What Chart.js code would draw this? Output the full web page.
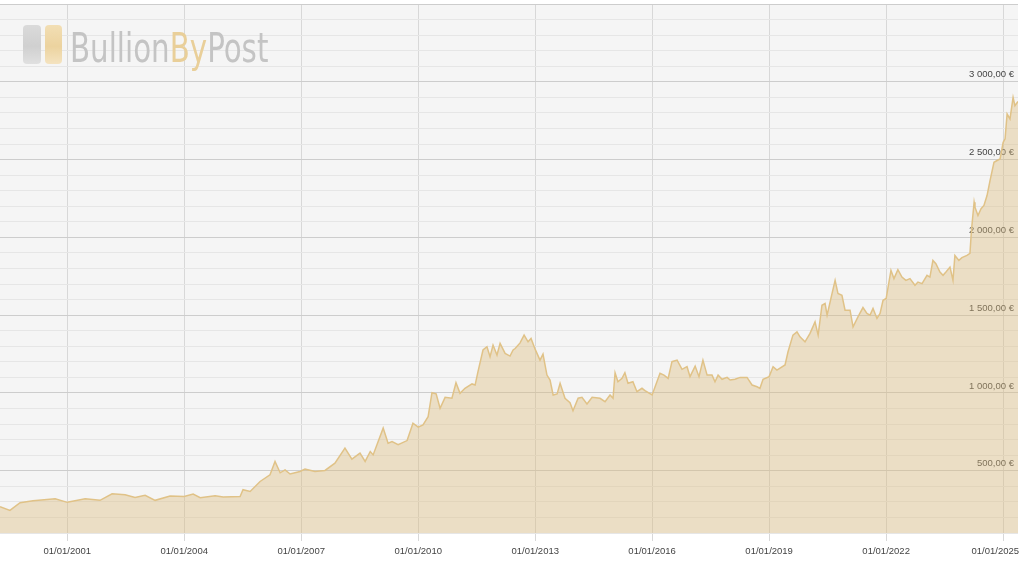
<!DOCTYPE html>
<html>
<head>
<meta charset="utf-8">
<script src="https://cdn.jsdelivr.net/npm/chart.js@4"></script>
<style>
  html, body { margin: 0; padding: 0; background: #fff; }
  #wrap { position: relative; width: 1024px; height: 561px; }
  #logo { position: absolute; left: 23px; top: 25px; height: 40px; pointer-events: none; }
  .bar { position: absolute; top: 0; width: 18px; height: 39px; border-radius: 4px; }
  .bar.grey { left: 0; background: linear-gradient(#dadada, #d0d0d0 55%, #e0e0e0); }
  .bar.gold { left: 22px; width: 17px; background: linear-gradient(#f2deb4, #ecd39f 55%, #f4e3c0); }
  #logoText { position: absolute; left: 47px; top: -1px; font-family: "DejaVu Sans Condensed", "Liberation Sans Narrow", sans-serif;
    font-size: 40px; line-height: 48px; color: #c4c4c4; white-space: nowrap; transform-origin: 0 0; }
  #logoText .by { color: #e9cf99; }
</style>
</head>
<body>
<div id="wrap">
  <canvas id="chart" width="1024" height="561"></canvas>
  <div id="logo">
    <div class="bar grey"></div>
    <div class="bar gold"></div>
    <span id="logoText">Bullion<span class="by">By</span>Post</span>
  </div>
</div>
<script>
const dates = [
  '1999-04-12','1999-07-14','1999-10-17','2000-02-15','2000-09-10','2001-01-01','2001-06-18','2001-11-04',
  '2002-02-25','2002-06-27','2002-09-28','2002-12-31','2003-04-04','2003-08-22','2004-01-01','2004-03-25',
  '2004-05-30','2004-10-17','2005-01-01','2005-06-08','2005-07-05','2005-09-10','2005-12-12','2006-03-15',
  '2006-05-01','2006-06-18','2006-08-03','2006-09-19','2006-12-21','2007-02-06','2007-05-10','2007-08-12',
  '2007-11-13','2008-02-15','2008-04-20','2008-07-05','2008-08-22','2008-10-09','2008-11-05','2009-02-07',
  '2009-03-25','2009-05-01','2009-06-27','2009-09-19','2009-11-13','2010-01-01','2010-02-15','2010-04-04',
  '2010-05-10','2010-06-18','2010-07-25','2010-09-10','2010-11-13','2010-12-21','2011-01-28','2011-03-15',
  '2011-05-20','2011-06-18','2011-07-15','2011-08-31','2011-10-07','2011-11-05','2011-12-03','2012-01-09',
  '2012-02-07','2012-03-25','2012-05-10','2012-06-08','2012-06-27','2012-08-12','2012-09-19','2012-10-26',
  '2012-11-23','2013-01-01','2013-02-15','2013-03-15','2013-04-21','2013-05-20','2013-06-18','2013-07-25',
  '2013-08-22','2013-10-07','2013-11-23','2013-12-21','2014-02-07','2014-03-15','2014-05-01','2014-06-18',
  '2014-08-31','2014-10-17','2014-12-03','2014-12-31','2015-01-19','2015-02-15','2015-03-25','2015-04-21',
  '2015-05-20','2015-07-05','2015-08-12','2015-09-28','2015-10-26','2016-01-01','2016-03-15','2016-04-21',
  '2016-05-30','2016-07-05','2016-08-22','2016-10-07','2016-11-23','2016-12-21','2017-02-07','2017-03-15',
  '2017-04-21','2017-05-30','2017-07-15','2017-08-12','2017-09-10','2017-10-17','2017-12-03','2018-01-01',
  '2018-02-15','2018-04-04','2018-06-08','2018-07-25','2018-09-10','2018-10-07','2018-11-05','2019-01-01',
  '2019-02-07','2019-03-15','2019-05-30','2019-06-27','2019-08-12','2019-09-19','2019-10-17','2019-12-03',
  '2020-01-19','2020-03-06','2020-04-04','2020-05-10','2020-06-08','2020-06-27','2020-08-12','2020-09-10',
  '2020-10-07','2020-11-13','2020-12-12','2021-01-28','2021-02-25','2021-04-12','2021-05-29','2021-07-05',
  '2021-08-03','2021-08-31','2021-10-07','2021-11-05','2021-12-03','2022-01-01','2022-02-15','2022-03-15',
  '2022-04-21','2022-05-29','2022-07-05','2022-08-12','2022-09-28','2022-10-26','2022-12-03','2023-01-19',
  '2023-02-15','2023-03-15','2023-04-12','2023-05-20','2023-06-18','2023-07-15','2023-08-22','2023-09-19',
  '2023-10-07','2023-11-13','2023-12-12','2024-01-28','2024-02-25','2024-03-10','2024-04-04','2024-04-12',
  '2024-05-10','2024-06-08','2024-07-05','2024-08-03','2024-08-31','2024-10-07','2024-11-05','2024-12-03',
  '2025-01-01','2025-01-19','2025-02-07','2025-03-06','2025-04-04','2025-04-21','2025-05-20'
];
const prices = [
  269, 245, 295, 307, 320, 297, 320, 310,
  352, 346, 329, 342, 310, 338, 335, 350,
  327, 340, 331, 335, 378, 367, 431, 474,
  560, 487, 506, 479, 495, 511, 495, 502,
  549, 645, 575, 613, 560, 624, 602, 774,
  677, 688, 667, 694, 806, 780, 795, 848,
  1002, 994, 902, 972, 966, 1066, 998, 1030,
  1058, 1051, 1137, 1276, 1297, 1233, 1308, 1244,
  1319, 1254, 1237, 1276, 1286, 1322, 1372, 1329,
  1350, 1280, 1211, 1250, 1115, 1083, 987, 994,
  1062, 966, 938, 886, 966, 972, 929, 972,
  966, 944, 987, 966, 1130, 1072, 1094, 1130,
  1062, 1072, 1008, 1030, 1015, 987, 1126, 1115,
  1094, 1201, 1211, 1152, 1169, 1105, 1173, 1105,
  1211, 1115, 1115, 1072, 1115, 1088, 1100, 1083,
  1088, 1100, 1100, 1051, 1040, 1030, 1088, 1105,
  1169, 1147, 1180, 1265, 1372, 1393, 1361, 1329,
  1383, 1457, 1372, 1564, 1575, 1500, 1639, 1724,
  1639, 1628, 1532, 1532, 1425, 1489, 1549, 1511,
  1500, 1543, 1479, 1511, 1596, 1607, 1788, 1735,
  1793, 1745, 1724, 1735, 1692, 1713, 1703, 1756,
  1745, 1852, 1831, 1777, 1756, 1777, 1809, 1724,
  1884, 1852, 1870, 1884, 1897, 2045, 2226, 2194,
  2141, 2184, 2205, 2269, 2365, 2483, 2494, 2504,
  2611, 2633, 2793, 2761, 2899, 2846, 2874
];
const tickYears = [2001, 2004, 2007, 2010, 2013, 2016, 2019, 2022, 2025];
const xStart = '1999-04-12';
const xEnd = '2025-05-20';

const fmtEuro = v => {
  const [i, d] = v.toFixed(2).split('.');
  return i.replace(/\B(?=(\d{3})+$)/g, ' ') + ',' + d + ' €';
};

const plotBg = {
  id: 'plotBg',
  beforeDraw(chart) {
    const { ctx, chartArea: a } = chart;
    ctx.save();
    ctx.fillStyle = '#f5f5f5';
    ctx.fillRect(a.left, a.top, a.right - a.left, a.bottom - a.top);
    ctx.restore();
  }
};

const tickFont = { family: 'Liberation Sans, Arial, sans-serif', size: 9.5 };

new Chart(document.getElementById('chart'), {
  type: 'line',
  data: {
    datasets: [{
      data: dates.map((d, i) => ({ x: new Date(d).getTime(), y: prices[i] })),
      borderColor: '#e0c287',
      borderWidth: 1.5,
      backgroundColor: 'rgba(220, 188, 125, 0.4)',
      fill: 'start',
      pointRadius: 0,
      tension: 0
    }]
  },
  options: {
    responsive: false,
    animation: false,
    layout: { padding: { top: 4, right: 6, left: 0, bottom: 4 } },
    plugins: { legend: { display: false }, tooltip: { enabled: false } },
    scales: {
      x: {
        type: 'linear',
        min: new Date(xStart).getTime(),
        max: new Date(xEnd).getTime(),
        afterBuildTicks: scale => {
          scale.ticks = tickYears.map(y => ({ value: Date.UTC(y, 0, 1) }));
        },
        afterFit: scale => { scale.paddingLeft = 0; scale.paddingRight = 0; scale.height = 24; },
        grid: { color: '#d8d8d8', tickLength: 8, drawTicks: true },
        border: { display: false },
        ticks: {
          autoSkip: false,
          maxRotation: 0,
          padding: 5,
          color: '#444',
          font: tickFont,
          callback: v => {
            const y = new Date(v).getUTCFullYear();
            // last label is pushed left so it stays inside the canvas
            return '01/01/' + y + (y === tickYears[tickYears.length - 1] ? '\u00a0'.repeat(6) : '');
          }
        }
      },
      y: {
        position: 'right',
        min: 100,
        max: 3500,
        afterFit: scale => { scale.width = 0; scale.paddingTop = 0; scale.paddingBottom = 0; },
        grid: {
          drawTicks: false,
          tickLength: 0,
          color: c => (c.tick && c.tick.value % 500 === 0) ? '#cdcdcd' : '#e6e6e6'
        },
        border: { display: false },
        ticks: {
          stepSize: 100,
          autoSkip: false,
          mirror: true,
          padding: -4,
          labelOffset: -7,
          color: '#444',
          font: tickFont,
          callback: v => (v % 500 === 0 && v >= 500 && v <= 3000) ? fmtEuro(v) : ''
        }
      }
    }
  },
  plugins: [plotBg]
});

const lt = document.getElementById('logoText');
lt.style.transform = 'scaleX(' + (198 / lt.offsetWidth) + ')';
</script>
</body>
</html>
